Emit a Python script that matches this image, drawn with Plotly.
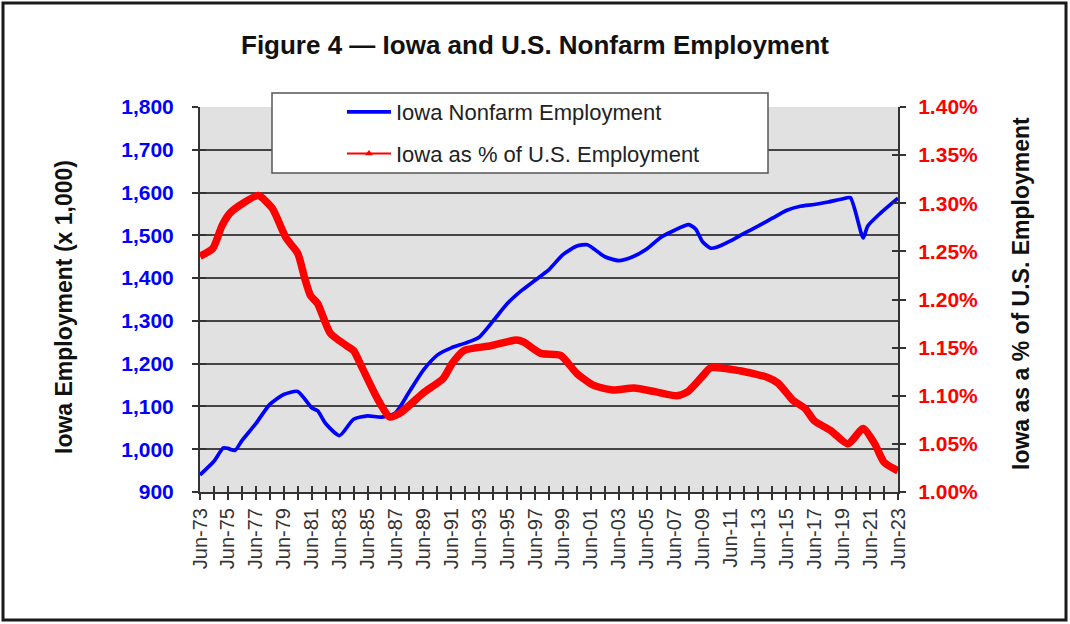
import plotly.graph_objects as go

# Iowa nonfarm employment (thousands)
emp_dates = ["1973-06", "1974-06", "1975-02", "1975-06", "1975-12", "1976-06", "1977-06",
             "1978-06", "1979-06", "1980-06", "1981-06", "1981-11", "1982-06", "1983-06",
             "1984-06", "1985-06", "1986-06", "1987-06", "1988-06", "1989-06", "1990-06",
             "1991-06", "1992-06", "1993-06", "1994-06", "1995-06", "1996-06", "1997-06",
             "1998-06", "1999-06", "2000-06", "2001-03", "2002-06", "2003-06", "2004-06",
             "2005-06", "2006-06", "2007-06", "2008-06", "2008-12", "2009-06", "2010-01",
             "2010-06", "2011-06", "2012-06", "2013-06", "2014-06", "2015-06", "2016-06",
             "2017-06", "2018-06", "2019-06", "2020-01", "2020-12", "2021-04", "2022-03",
             "2023-06"]
emp_values = [940, 972, 1003, 1002, 997, 1020, 1060,
              1105, 1128, 1135, 1097, 1090, 1060, 1032,
              1070, 1078, 1075, 1085, 1135, 1185, 1220,
              1237, 1248, 1262, 1300, 1340, 1370, 1395,
              1420, 1455, 1475, 1478, 1450, 1441, 1450,
              1468, 1495, 1512, 1525, 1515, 1485, 1470,
              1472, 1487, 1505, 1522, 1540, 1558, 1568,
              1572, 1578, 1585, 1588, 1494, 1522, 1552,
              1587]

# Iowa as % of U.S. employment
pct_dates = ["1973-06", "1974-05", "1975-01", "1975-08", "1976-07", "1977-08", "1978-08",
             "1979-08", "1980-06", "1980-12", "1981-05", "1981-11", "1982-10", "1983-12",
             "1984-06", "1985-01", "1986-02", "1987-01", "1987-10", "1989-06", "1990-11",
             "1991-07", "1992-05", "1994-04", "1996-02", "1996-08", "1997-11", "1999-04",
             "2000-06", "2001-08", "2003-01", "2004-07", "2006-02", "2007-08", "2008-05",
             "2009-05", "2010-01", "2012-02", "2014-02", "2014-11", "2015-12", "2016-10",
             "2017-06", "2018-08", "2019-11", "2020-12", "2021-10", "2022-06", "2023-06"]
pct_values = [1.245, 1.253, 1.277, 1.290, 1.300, 1.308, 1.295,
              1.264, 1.248, 1.222, 1.204, 1.196, 1.165, 1.152,
              1.147, 1.130, 1.098, 1.078, 1.082, 1.103, 1.118,
              1.134, 1.147, 1.152, 1.158, 1.156, 1.144, 1.142,
              1.123, 1.111, 1.106, 1.108, 1.104, 1.100, 1.104,
              1.119, 1.129, 1.126, 1.119, 1.113, 1.095, 1.087,
              1.074, 1.064, 1.050, 1.066, 1.050, 1.031, 1.022]

tick_dates = ["1973-06", "1975-06", "1977-06", "1979-06", "1981-06", "1983-06", "1985-06",
              "1987-06", "1989-06", "1991-06", "1993-06", "1995-06", "1997-06", "1999-06",
              "2001-06", "2003-06", "2005-06", "2007-06", "2009-06", "2011-06", "2013-06",
              "2015-06", "2017-06", "2019-06", "2021-06", "2023-06"]
tick_labels = ["Jun-73", "Jun-75", "Jun-77", "Jun-79", "Jun-81", "Jun-83", "Jun-85",
               "Jun-87", "Jun-89", "Jun-91", "Jun-93", "Jun-95", "Jun-97", "Jun-99",
               "Jun-01", "Jun-03", "Jun-05", "Jun-07", "Jun-09", "Jun-11", "Jun-13",
               "Jun-15", "Jun-17", "Jun-19", "Jun-21", "Jun-23"]

x_range = ["1973-06-01", "2023-06-01"]
emp_range = [900, 1800]
pct_range = [1.00, 1.40]

FONT = "Arial, Liberation Sans, sans-serif"
W, H = 1070, 624
L, R, T, B = 200, 898, 107, 492  # plot area in px
TICK = dict(ticklen=6, tickcolor="#333", tickwidth=1.5)


def px(x):
    return (x - L) / (R - L)


def py(y):
    return (B - y) / (B - T)


fig = go.Figure()

fig.add_trace(go.Scatter(
    x=pct_dates, y=pct_values, yaxis="y2", mode="lines",
    line=dict(color="#ff0000", width=7.5, shape="spline", smoothing=0.6),
    showlegend=False, hoverinfo="skip"))

fig.add_trace(go.Scatter(
    x=emp_dates, y=emp_values, mode="lines",
    line=dict(color="#0000ff", width=3.7, shape="spline", smoothing=0.6),
    name="Iowa Nonfarm Employment", legendgroup="a"))

# legend entry for the % series (thin line with triangle marker, as in the reference)
fig.add_trace(go.Scatter(
    x=[None], y=[None], yaxis="y2", mode="lines+markers",
    line=dict(color="#ff0000", width=2),
    marker=dict(symbol="triangle-up", size=7, color="#ff0000"),
    name="Iowa as % of U.S. Employment", legendgroup="b"))

# empty traces so the companion tick axes (crossing ticks) get drawn
fig.add_trace(go.Scatter(x=[None], y=[None], xaxis="x2", yaxis="y3",
                         showlegend=False, hoverinfo="skip"))
fig.add_trace(go.Scatter(x=[None], y=[None], xaxis="x2", yaxis="y4",
                         showlegend=False, hoverinfo="skip"))

fig.update_layout(
    width=W, height=H,
    margin=dict(l=L, r=W - R, t=T, b=H - B),
    paper_bgcolor="white",
    plot_bgcolor="#e1e1e1",
    font=dict(family=FONT, color="#222"),
    title=dict(text="<b>Figure 4 — Iowa and U.S. Nonfarm Employment</b>",
               x=0.5, xanchor="center", y=1 - 45 / H, yanchor="middle",
               yref="container", font=dict(size=26, color="#111")),
    xaxis=dict(
        type="date", range=x_range,
        tickvals=tick_dates, ticktext=tick_labels, tickangle=-90,
        tickfont=dict(size=20, color="#333"),
        ticks="outside", **TICK,
        minor=dict(dtick="M12", tick0="1973-06-01", ticks="outside", showgrid=False, **TICK),
        showline=True, linecolor="#333", linewidth=2,
        showgrid=False, zeroline=False, fixedrange=True),
    xaxis2=dict(
        type="date", range=x_range, overlaying="x", anchor="y", side="bottom",
        tickvals=tick_dates, showticklabels=False,
        ticks="inside", **TICK,
        minor=dict(dtick="M12", tick0="1973-06-01", ticks="inside", showgrid=False, **TICK),
        showline=False, showgrid=False, zeroline=False),
    yaxis=dict(
        range=emp_range, dtick=100, tickformat=",",
        tickfont=dict(size=21, color="#0000ff", weight="bold"),
        ticks="outside", **TICK,
        ticklabelstandoff=14,
        showline=True, linecolor="#333", linewidth=2,
        showgrid=True, gridcolor="#444", gridwidth=1.5, zeroline=False),
    yaxis2=dict(
        range=pct_range, dtick=0.05, tickformat=".2f", ticksuffix="%",
        overlaying="y", side="right",
        tickfont=dict(size=21, color="#ff0000", weight="bold"),
        ticks="outside", **TICK,
        ticklabelstandoff=8,
        showline=True, linecolor="#333", linewidth=2,
        showgrid=False, zeroline=False),
    yaxis3=dict(
        range=emp_range, dtick=100, overlaying="y", side="left", anchor="x2",
        showticklabels=False, ticks="inside", **TICK,
        showline=False, showgrid=False, zeroline=False),
    yaxis4=dict(
        range=pct_range, dtick=0.05, overlaying="y", side="right", anchor="x2",
        showticklabels=False, ticks="inside", **TICK,
        showline=False, showgrid=False, zeroline=False),
    legend=dict(
        x=px(342), y=py(91), xanchor="left", yanchor="top",
        bgcolor="rgba(0,0,0,0)", borderwidth=0,
        font=dict(size=22, color="#222"),
        traceorder="grouped", tracegroupgap=10, itemwidth=44),
    shapes=[
        dict(type="rect", xref="paper", yref="paper",
             x0=px(272), x1=px(768), y0=py(173), y1=py(93),
             fillcolor="white", line=dict(color="#555", width=1.5), layer="above"),
        dict(type="rect", xref="paper", yref="paper",
             x0=px(3), x1=px(1066), y0=py(620), y1=py(3),
             fillcolor="rgba(0,0,0,0)", line=dict(color="#1a1a1a", width=3), layer="above"),
    ],
    annotations=[
        dict(text="<b>Iowa Employment (x 1,000)</b>", xref="paper", yref="paper",
             x=px(64), y=py(307), textangle=-90, showarrow=False,
             xanchor="center", yanchor="middle", font=dict(size=23, color="#111")),
        dict(text="<b>Iowa as a % of U.S. Employment</b>", xref="paper", yref="paper",
             x=px(1021), y=py(294), textangle=-90, showarrow=False,
             xanchor="center", yanchor="middle", font=dict(size=23, color="#111")),
    ],
)

fig.write_html("out.html", config={"displayModeBar": False},
               post_script="document.body.style.margin='0';document.body.style.overflow='hidden';")
